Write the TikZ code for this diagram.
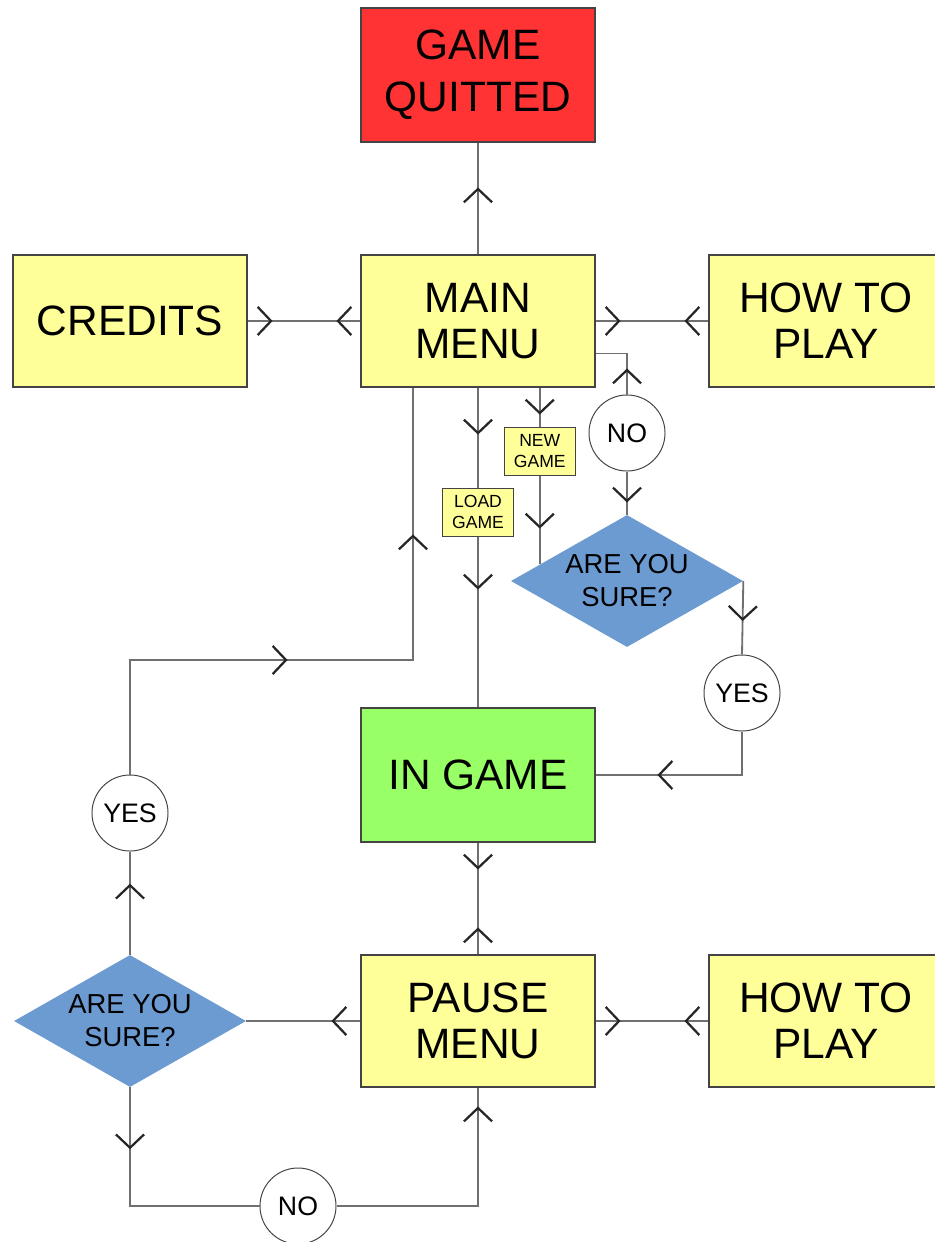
\documentclass[tikz,border=0pt]{standalone}
\usepackage{fontspec}
\setmainfont{Liberation Sans}
\usetikzlibrary{shapes.geometric,arrows.meta,decorations.markings,calc}
\definecolor{boxyellow}{HTML}{FFFF99}
\definecolor{quitred}{HTML}{FF3333}
\definecolor{gamegreen}{HTML}{99FF66}
\definecolor{askblue}{HTML}{6C9BD2}
\definecolor{edgegray}{HTML}{444444}
\definecolor{linkgray}{HTML}{707070}

\begin{document}
\begin{tikzpicture}[x=0.025cm, y=-0.025cm,
    state/.style={draw=edgegray, line width=0.8pt, minimum width=5.85cm, minimum height=3.3cm,
        inner sep=0pt, align=center, font=\fontsize{30.2}{32.5}\selectfont},
    ask/.style={diamond, shape aspect=1.75, fill=askblue, minimum width=5.8cm, minimum height=3.3cm,
        inner sep=0pt, align=center, font=\fontsize{19.5}{23.5}\selectfont},
    reply/.style={circle, draw=edgegray, line width=0.7pt, fill=white, minimum size=1.9cm,
        inner sep=0pt, font=\fontsize{19}{21}\selectfont},
    choice/.style={draw=edgegray, line width=0.7pt, fill=boxyellow, minimum width=1.775cm,
        minimum height=1.2cm, inner sep=0pt, align=center, font=\fontsize{12.5}{15}\selectfont},
    chev/.tip={Straight Barb[length=9.5pt, width=20pt, line width=1.6pt, color=black!85]},
    link/.style={draw=linkgray, line width=1.3pt, postaction=decorate, decoration=markings},
    fw/.style={decoration={mark=at position #1*0.7113pt with {\arrow{chev}}}},
    bw/.style={decoration={mark=at position #1*0.7113pt with {\arrowreversed{chev}}}}]
    \useasboundingbox (0,0) rectangle (934,1242);

    \node [state, fill=quitred, minimum height=3.35cm, font=\fontsize{30.2}{37}\selectfont] (quit) at (478,75) {GAME\\QUITTED};
    \node [state, fill=boxyellow] (main) at (478,321) {MAIN\\MENU};
    \node [state, fill=boxyellow] (credits) at (130,321) {CREDITS};
    \node [state, fill=boxyellow] (howtoA) at (826,321) {HOW TO\\PLAY};
    \node [state, fill=gamegreen, minimum height=3.35cm] (ingame) at (478,775) {IN GAME};
    \node [state, fill=boxyellow] (pause) at (478,1021) {PAUSE\\MENU};
    \node [state, fill=boxyellow] (howtoB) at (826,1021) {HOW TO\\PLAY};
    \node [ask] (sureA) at (627,581) {ARE YOU\\SURE?};
    \node [ask] (sureB) at (130,1021) {ARE YOU\\SURE?};
    \node [reply] (noA) at (627,433) {NO};
    \node [reply] (yesA) at (742,693) {YES};
    \node [reply] (yesB) at (130,813) {YES};
    \node [reply] (noB) at (298,1206) {NO};

    \coordinate (newend) at ($(sureA.west)!0.25!(sureA.north)$);
    \coordinate (turn) at (413,660);

    \draw [link, fw=67] (main.north) -- (quit.south);
    \draw [link, fw=25, bw=-24] (credits.east) -- (main.west);
    \draw [link, fw=25, bw=-24] (main.east) -- (howtoA.west);
    \draw [link, fw=26] (noA.north) |- ([yshift=0.85cm]main.south east);
    \draw [link, fw=31] (noA.south) -- (sureA.north);
    \draw [link, fw=27, fw=141] (main.south -| newend) -- (newend);
    \draw [link, fw=47, fw=202] (main.south) -- (ingame.north);
    \draw [link, fw=272, fw=523] (yesB.north) |- (turn) -- (main.south -| turn);
    \draw [link, fw=71] (sureB.north) -- (yesB.south);
    \draw [link, fw=40] (sureA.east) -- (yesA.north);
    \draw [link, fw=128] (yesA.south) |- (ingame.east);
    \draw [link, fw=27, bw=-27] (ingame.south) -- (pause.north);
    \draw [link, fw=29] (pause.west) -- (sureB.east);
    \draw [link, fw=25, bw=-24] (pause.east) -- (howtoB.west);
    \draw [link, fw=62] (sureB.south) |- (noB.west);
    \draw [link, fw=241] (noB.east) -| (pause.south);

    \node [choice] (newgame) at (newend |- 0,451) {NEW\\GAME};
    \node [choice] (loadgame) at (478,512) {LOAD\\GAME};
\end{tikzpicture}
\end{document}
